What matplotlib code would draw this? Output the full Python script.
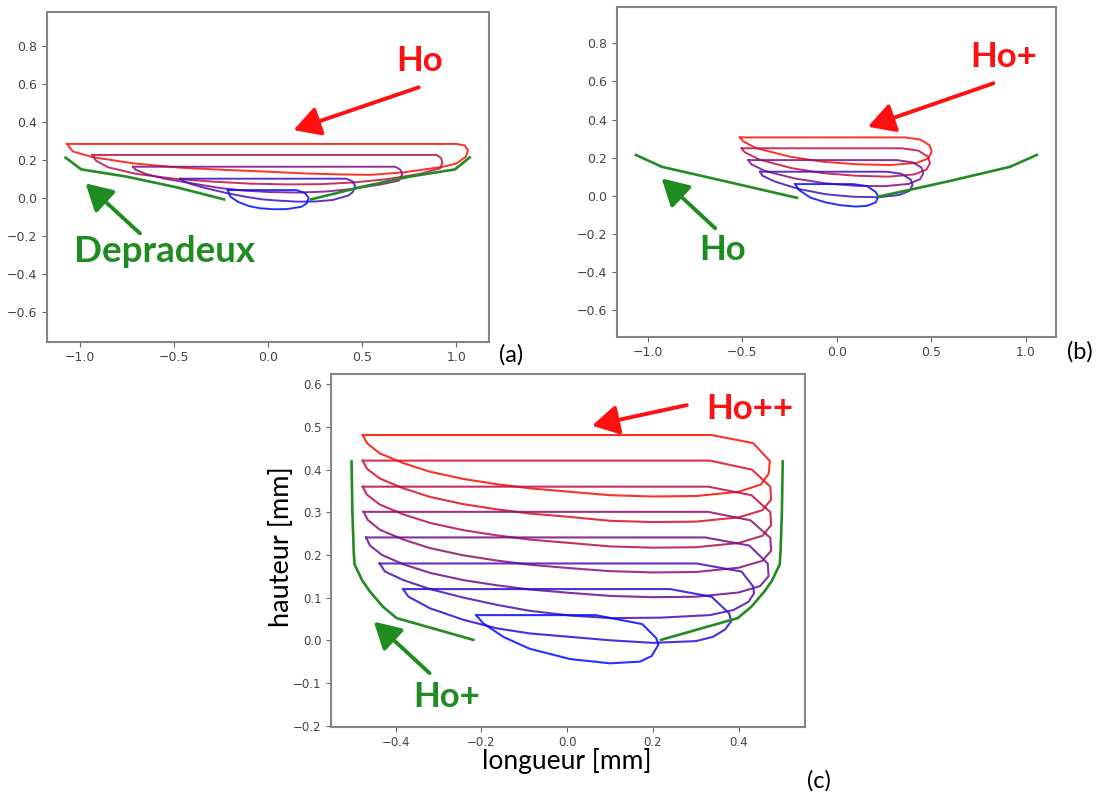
import matplotlib.pyplot as plt

# ---- panel (a): Ho loops (top -> bottom) + Depradeux envelope ----
a_loop1 = [(-1.069, 0.283), (1.0, 0.283), (1.045, 0.275), (1.062, 0.25), (1.05, 0.215), (1.0, 0.18),
           (0.93, 0.163), (0.716, 0.133), (0.539, 0.12), (0.362, 0.123), (0.185, 0.128), (0.0, 0.137),
           (-0.222, 0.146), (-0.47, 0.158), (-0.718, 0.181), (-0.931, 0.213), (-1.037, 0.243), (-1.069, 0.283)]
a_loop2 = [(-0.933, 0.225), (0.894, 0.225), (0.918, 0.21), (0.926, 0.185), (0.915, 0.155), (0.805, 0.125),
           (0.628, 0.097), (0.451, 0.08), (0.274, 0.071), (0.1, 0.07), (-0.1, 0.074), (-0.3, 0.085),
           (-0.5, 0.1), (-0.7, 0.125), (-0.85, 0.16), (-0.915, 0.195), (-0.933, 0.225)]
a_loop3 = [(-0.718, 0.163), (0.675, 0.163), (0.702, 0.148), (0.713, 0.125), (0.695, 0.09), (0.6, 0.07),
           (0.437, 0.045), (0.3, 0.032), (0.157, 0.027), (0.0, 0.03), (-0.122, 0.037), (-0.25, 0.05),
           (-0.402, 0.075), (-0.55, 0.1), (-0.65, 0.125), (-0.705, 0.148), (-0.718, 0.163)]
a_loop4 = [(-0.467, 0.100), (0.415, 0.100), (0.45, 0.085), (0.463, 0.06), (0.45, 0.03), (0.428, 0.012),
           (0.344, -0.012), (0.25, -0.02), (0.157, -0.021), (0.05, -0.015), (-0.03, -0.009), (-0.12, 0.005),
           (-0.215, 0.023), (-0.33, 0.05), (-0.41, 0.072), (-0.455, 0.09), (-0.467, 0.100)]
a_loop5 = [(-0.215, 0.040), (0.150, 0.040), (0.195, 0.025), (0.215, 0.0), (0.205, -0.03), (0.176, -0.048),
           (0.1, -0.06), (0.03, -0.061), (-0.04, -0.056), (-0.1, -0.045), (-0.16, -0.022), (-0.2, 0.005),
           (-0.215, 0.040)]
a_green_left = [(-1.076, 0.211), (-0.993, 0.149), (-0.753, 0.111), (-0.488, 0.055), (-0.234, -0.009)]
a_green_right = [(0.228, -0.009), (0.488, 0.055), (0.753, 0.111), (0.993, 0.149), (1.071, 0.212)]

# ---- panel (b): Ho+ loops + Ho envelope ----
b_loop1 = [(-0.512, 0.306), (0.36, 0.306), (0.44, 0.295), (0.49, 0.265), (0.501, 0.231), (0.483, 0.196),
           (0.422, 0.172), (0.281, 0.161), (0.105, 0.165), (-0.072, 0.178), (-0.248, 0.205), (-0.424, 0.249),
           (-0.495, 0.285), (-0.512, 0.306)]
b_loop2 = [(-0.503, 0.249), (0.342, 0.249), (0.43, 0.237), (0.482, 0.205), (0.492, 0.17), (0.473, 0.137),
           (0.41, 0.112), (0.27, 0.10), (0.1, 0.105), (-0.07, 0.118), (-0.24, 0.145), (-0.41, 0.19),
           (-0.487, 0.228), (-0.503, 0.249)]
b_loop3 = [(-0.468, 0.187), (0.316, 0.187), (0.40, 0.175), (0.447, 0.148), (0.457, 0.118), (0.44, 0.087),
           (0.38, 0.062), (0.25, 0.05), (0.1, 0.052), (-0.06, 0.065), (-0.22, 0.09), (-0.38, 0.13),
           (-0.452, 0.165), (-0.468, 0.187)]
b_loop4 = [(-0.406, 0.126), (0.263, 0.126), (0.34, 0.115), (0.39, 0.085), (0.40, 0.056), (0.383, 0.025),
           (0.33, 0.004), (0.22, -0.008), (0.08, -0.005), (-0.06, 0.008), (-0.2, 0.035), (-0.33, 0.075),
           (-0.393, 0.105), (-0.406, 0.126)]
b_loop5 = [(-0.221, 0.061), (0.087, 0.061), (0.16, 0.05), (0.205, 0.02), (0.219, -0.005), (0.205, -0.035),
           (0.16, -0.053), (0.1, -0.057), (0.02, -0.05), (-0.06, -0.035), (-0.14, -0.01), (-0.2, 0.03),
           (-0.221, 0.061)]
b_green_left = [(-1.062, 0.214), (-0.926, 0.152), (-0.6, 0.078), (-0.211, -0.011)]
b_green_right = [(0.22, -0.005), (0.6, 0.078), (0.916, 0.152), (1.056, 0.214)]

# ---- panel (c): Ho++ loops + Ho+ envelope ----
c_loop1 = [(-0.477, 0.481), (0.337, 0.481), (0.434, 0.462), (0.473, 0.42), (0.470, 0.39), (0.452, 0.365),
           (0.40, 0.348), (0.30, 0.338), (0.20, 0.337), (0.10, 0.340), (0.007, 0.348), (-0.087, 0.356),
           (-0.165, 0.366), (-0.242, 0.378), (-0.32, 0.395), (-0.382, 0.415), (-0.437, 0.438),
           (-0.467, 0.462), (-0.477, 0.481)]
c_loop2 = [(-0.477, 0.421), (0.333, 0.421), (0.431, 0.400), (0.474, 0.36), (0.476, 0.33), (0.456, 0.305),
           (0.40, 0.288), (0.30, 0.278), (0.20, 0.277), (0.10, 0.280), (0.007, 0.289), (-0.087, 0.297),
           (-0.165, 0.307), (-0.242, 0.319), (-0.32, 0.336), (-0.382, 0.356), (-0.437, 0.379),
           (-0.467, 0.402), (-0.477, 0.421)]
c_loop3 = [(-0.477, 0.360), (0.329, 0.360), (0.430, 0.340), (0.474, 0.30), (0.476, 0.27), (0.456, 0.245),
           (0.40, 0.228), (0.30, 0.218), (0.20, 0.217), (0.10, 0.220), (0.007, 0.228), (-0.087, 0.236),
           (-0.165, 0.246), (-0.242, 0.258), (-0.32, 0.275), (-0.382, 0.295), (-0.437, 0.318),
           (-0.467, 0.341), (-0.477, 0.360)]
c_loop4 = [(-0.475, 0.301), (0.329, 0.301), (0.428, 0.281), (0.474, 0.24), (0.476, 0.21), (0.455, 0.186),
           (0.40, 0.170), (0.30, 0.160), (0.20, 0.159), (0.10, 0.162), (0.007, 0.169), (-0.087, 0.177),
           (-0.165, 0.187), (-0.242, 0.199), (-0.32, 0.216), (-0.382, 0.236), (-0.437, 0.259),
           (-0.465, 0.282), (-0.475, 0.301)]
c_loop5 = [(-0.469, 0.241), (0.322, 0.241), (0.425, 0.222), (0.468, 0.18), (0.470, 0.15), (0.450, 0.127),
           (0.40, 0.112), (0.30, 0.102), (0.20, 0.101), (0.10, 0.104), (0.007, 0.111), (-0.087, 0.119),
           (-0.165, 0.129), (-0.242, 0.141), (-0.32, 0.158), (-0.382, 0.178), (-0.432, 0.200),
           (-0.460, 0.222), (-0.469, 0.241)]
c_loop6 = [(-0.4375, 0.180), (0.302, 0.180), (0.407, 0.161), (0.434, 0.126), (0.436, 0.110), (0.423, 0.090),
           (0.388, 0.071), (0.333, 0.059), (0.217, 0.053), (0.10, 0.052), (0.007, 0.058), (-0.087, 0.069),
           (-0.164, 0.083), (-0.242, 0.100), (-0.32, 0.120), (-0.382, 0.141), (-0.425, 0.161), (-0.4375, 0.180)]
c_loop7 = [(-0.383, 0.12), (0.24, 0.12), (0.337, 0.102), (0.378, 0.063), (0.383, 0.045), (0.368, 0.025),
           (0.34, 0.008), (0.3, -0.002), (0.2, -0.006), (0.1, 0.0), (0.007, 0.008), (-0.087, 0.016),
           (-0.164, 0.028), (-0.242, 0.048), (-0.32, 0.075), (-0.37, 0.102), (-0.383, 0.12)]
c_loop8 = [(-0.2125, 0.059), (0.066, 0.059), (0.175, 0.038), (0.208, 0.005), (0.213, -0.01), (0.197, -0.037),
           (0.17, -0.05), (0.1, -0.054), (0.007, -0.044), (-0.087, -0.02), (-0.149, 0.008), (-0.196, 0.04),
           (-0.2125, 0.059)]
c_green_left = [(-0.503, 0.419), (-0.501, 0.30), (-0.498, 0.21), (-0.496, 0.178), (-0.478, 0.14),
                (-0.46, 0.114), (-0.43, 0.079), (-0.398, 0.052), (-0.219, 0.001)]
c_green_right = [(0.219, 0.001), (0.398, 0.052), (0.43, 0.079), (0.46, 0.114), (0.478, 0.14),
                 (0.496, 0.178), (0.498, 0.21), (0.501, 0.30), (0.503, 0.419)]

RED = '#ff1010'
GREEN = '#1e8c1e'
W, H = 1101, 798


def px_axes(left, top, right, bottom):
    # position given in pixels of the final picture
    return fig.add_axes([left / W, 1 - bottom / H, (right - left) / W, (bottom - top) / H])


def draw_panel(ax, loops, greens, xlim, ylim, xticks, yticks, lw=1.4, tsize=9):
    n = len(loops)
    for i, loop in enumerate(loops):
        t = 1 - i / (n - 1)
        xs, ys = zip(*loop)
        ax.plot(xs, ys, color=(t, 0.05, 1 - t), lw=lw, alpha=0.85)
    for g in greens:
        xs, ys = zip(*g)
        ax.plot(xs, ys, color='#228b22', lw=1.9)
    ax.set_xlim(*xlim)
    ax.set_ylim(*ylim)
    ax.set_xticks(xticks)
    ax.set_yticks(yticks)
    for s in ax.spines.values():
        s.set_color('#858585')
        s.set_linewidth(1.5)
    ax.tick_params(colors='#666666', labelcolor='#444444', labelsize=tsize)


def arrow(ax, tail, tip, color):
    ax.annotate('', xy=tip, xytext=tail,
                arrowprops=dict(arrowstyle='-|>,head_length=0.8,head_width=0.45', color=color,
                                lw=2.8, shrinkA=0, shrinkB=0, mutation_scale=20))


def label(ax, x, y, s, color, size=25):
    ax.text(x, y, s, color=color, fontsize=size, fontweight='bold', family=['Lato', 'DejaVu Sans'],
            ha='center', va='center')


fig = plt.figure(figsize=(W / 100, H / 100), dpi=100)

# (a)
ax_a = px_axes(46.6, 11.7, 489.3, 341.7)
draw_panel(ax_a, [a_loop1, a_loop2, a_loop3, a_loop4, a_loop5], [a_green_left, a_green_right],
           (-1.177, 1.175), (-0.758, 0.979), [-1.0, -0.5, 0.0, 0.5, 1.0],
           [-0.6, -0.4, -0.2, 0.0, 0.2, 0.4, 0.6, 0.8])
arrow(ax_a, (0.80, 0.581), (0.135, 0.356), RED)
arrow(ax_a, (-0.681, -0.188), (-0.970, 0.075), GREEN)
label(ax_a, 0.804, 0.721, 'Ho', RED)
label(ax_a, -0.553, -0.282, 'Depradeux', GREEN, size=26.5)

# (b)
ax_b = px_axes(616.8, 7.3, 1056, 336.7)
draw_panel(ax_b, [b_loop1, b_loop2, b_loop3, b_loop4, b_loop5], [b_green_left, b_green_right],
           (-1.163, 1.158), (-0.740, 0.989), [-1.0, -0.5, 0.0, 0.5, 1.0],
           [-0.6, -0.4, -0.2, 0.0, 0.2, 0.4, 0.6, 0.8])
arrow(ax_b, (0.827, 0.590), (0.164, 0.362), RED)
arrow(ax_b, (-0.643, -0.171), (-0.926, 0.091), GREEN)
label(ax_b, 0.883, 0.726, 'Ho+', RED)
label(ax_b, -0.606, -0.285, 'Ho', GREEN)

# (c)
ax_c = px_axes(331.4, 374, 804.6, 726.7)
draw_panel(ax_c, [c_loop1, c_loop2, c_loop3, c_loop4, c_loop5, c_loop6, c_loop7, c_loop8],
           [c_green_left, c_green_right], (-0.55, 0.554), (-0.2025, 0.624),
           [-0.4, -0.2, 0.0, 0.2, 0.4], [-0.2, -0.1, 0.0, 0.1, 0.2, 0.3, 0.4, 0.5, 0.6], lw=1.5, tsize=8.5)
arrow(ax_c, (0.279, 0.551), (0.058, 0.503), RED)
arrow(ax_c, (-0.321, -0.077), (-0.451, 0.0436), GREEN)
label(ax_c, 0.427, 0.541, 'Ho++', RED)
label(ax_c, -0.281, -0.134, 'Ho+', GREEN)
ax_c.set_xlabel('longueur [mm]', fontsize=19, family=['Lato', 'DejaVu Sans'])
ax_c.set_ylabel('hauteur [mm]', fontsize=19.5, family=['Lato', 'DejaVu Sans'])
ax_c.xaxis.set_label_coords(0.498, -0.06)
ax_c.yaxis.set_label_coords(-0.079, 0.51)

for s, x, y in [('(a)', 511, 355), ('(b)', 1080, 352), ('(c)', 819, 781)]:
    fig.text(x / W, 1 - y / H, s, fontsize=17, family=['Lato', 'DejaVu Sans'], ha='center', va='center')

fig.savefig('out.png', dpi=100)
